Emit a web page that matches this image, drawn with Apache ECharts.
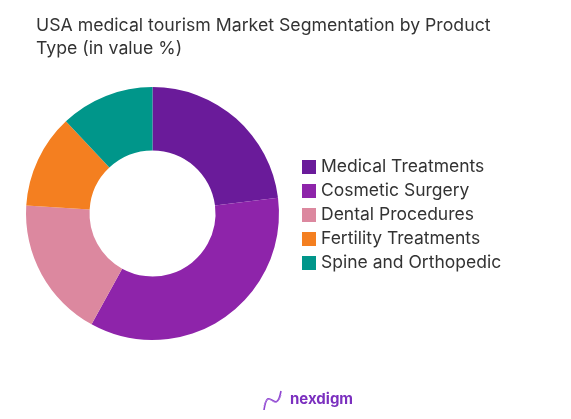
<!DOCTYPE html>
<html><head><meta charset="utf-8">
<script src="https://cdn.jsdelivr.net/npm/echarts@6/dist/echarts.min.js"></script>
<style>html,body{margin:0;padding:0;background:#fff}#c{width:571px;height:419px}</style>
</head><body><div id="c"></div>
<script>
const categories = ["Medical Treatments","Cosmetic Surgery","Dental Procedures","Fertility Treatments","Spine and Orthopedic"];
const values = [23, 35, 18, 12, 12];
const colors = ["#6a1b9a","#8e24aa","#dc889f","#f47f20","#00968a"];
const titleLines = ["USA medical tourism Market Segmentation by Product","Type (in value %)"];

const chart = echarts.init(document.getElementById('c'), null, {renderer:'canvas'});
const FONT = 'Inter, "Noto Sans", sans-serif';
chart.setOption({
  animation:false,
  title:{text:titleLines.join('\n'), left:31, top:9,
    textStyle:{fontFamily:FONT, fontSize:17.7, fontWeight:'normal', color:'#333', lineHeight:23}},
  legend:{orient:'vertical', left:297, top:153, itemWidth:14, itemHeight:14, itemGap:6,
    icon:'rect', data:categories,
    textStyle:{fontFamily:FONT, fontSize:17.5, color:'#333', lineHeight:14}},
  color:colors,
  series:[{type:'pie', center:[152.5,213.5], radius:[63,126.5], startAngle:90, clockwise:true,
    label:{show:false}, labelLine:{show:false}, emphasis:{disabled:true},
    itemStyle:{borderWidth:0},
    data:categories.map((n,i)=>({name:n, value:values[i]}))}],
  graphic:[
    {type:'text', x:290, y:392, style:{text:'nexdigm', font:'bold 15px '+FONT, fill:'#7b2fbf'}},
    {type:'bezierCurve', shape:{x1:264,y1:410,cpx1:268,cpy1:382,cpx2:276,cpy2:418,x2:281,y2:391}, style:{stroke:'#8e44d0', fill:null, lineWidth:1.6}},
    {type:'bezierCurve', shape:{x1:264,y1:406,cpx1:269,cpy1:388,cpx2:275,cpy2:414,x2:281,y2:395}, style:{stroke:'#b07be0', fill:null, lineWidth:1}}
  ]
});
</script></body></html>
